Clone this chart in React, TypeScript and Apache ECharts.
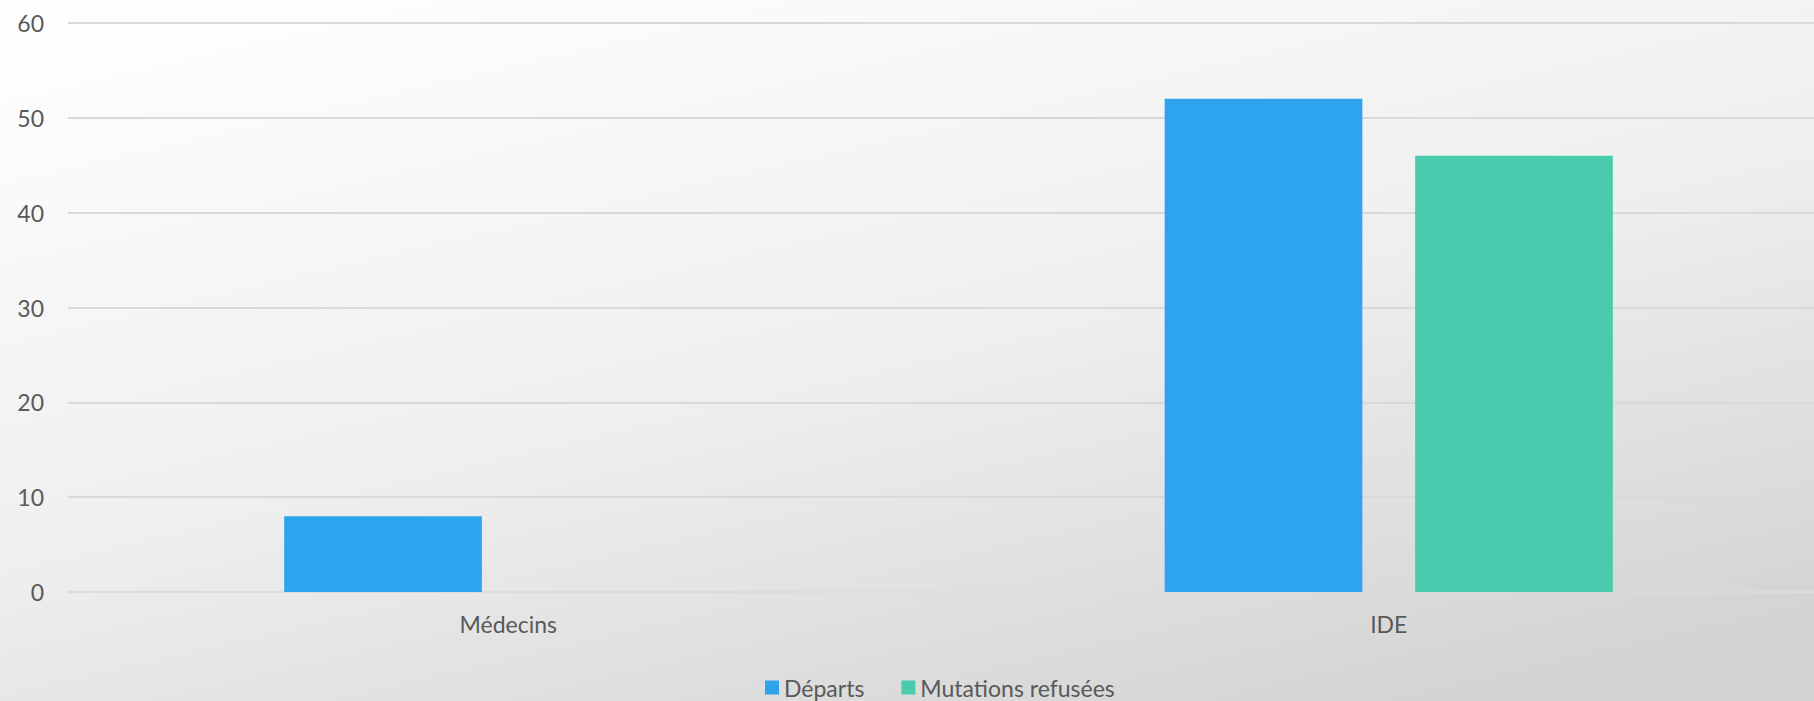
import React, { useEffect, useRef } from "react";
import * as echarts from "echarts";

const categories = ["Médecins", "IDE"];
const seriesNames = ["Départs", "Mutations refusées"];
const departs = [8, 52];
const mutationsRefusees = [0, 46];
const yTicks = { min: 0, max: 60, interval: 10 };

export default function App() {
  const ref = useRef<HTMLDivElement>(null);
  useEffect(() => {
    document.body.style.margin = "0";
    document.body.style.overflow = "hidden";
    document.documentElement.style.overflow = "hidden";
    if (!ref.current) return;
    const chart = echarts.init(ref.current, undefined, { renderer: "svg" });
    const font = "Lato";
    chart.setOption({
      animation: false,
      backgroundColor: {
        type: "linear",
        x: 0.2,
        y: 0,
        x2: 0.8,
        y2: 1,
        colorStops: [
          { offset: 0, color: "#fdfdfd" },
          { offset: 0.5, color: "#efefef" },
          { offset: 1, color: "#d3d3d3" },
        ],
      },
      textStyle: { fontFamily: font, color: "#595959" },
      grid: { left: 68, right: 0, top: 23, bottom: 109, containLabel: false },
      legend: {
        left: 765,
        top: 676,
        padding: 0,
        itemWidth: 14,
        itemHeight: 14,
        itemGap: 37,
        icon: "rect",
        textStyle: { fontFamily: font, fontSize: 23, color: "#595959" },
        data: seriesNames,
      },
      xAxis: {
        type: "category",
        data: categories,
        axisLine: { show: true, lineStyle: { color: "#dcdcdc", width: 1.5 } },
        axisTick: { show: false },
        axisLabel: { fontFamily: font, fontSize: 23, color: "#595959", margin: 20 },
      },
      yAxis: {
        type: "value",
        min: yTicks.min,
        max: yTicks.max,
        interval: yTicks.interval,
        axisLine: { show: false },
        axisTick: { show: false },
        axisLabel: { fontFamily: font, fontSize: 23, color: "#595959", margin: 24 },
        splitLine: { lineStyle: { color: "#d9d9d9", width: 2 } },
      },
      series: [
        {
          name: seriesNames[0],
          type: "bar",
          data: departs,
          itemStyle: { color: "#2ea3ee" },
          barGap: "26.7%",
          barCategoryGap: "49.1%",
        },
        {
          name: seriesNames[1],
          type: "bar",
          data: mutationsRefusees,
          itemStyle: { color: "#4bcbae" },
          barGap: "26.7%",
          barCategoryGap: "49.1%",
        },
      ],
    });
    return () => chart.dispose();
  }, []);
  return <div ref={ref} style={{ width: 1829, height: 701 }} />;
}
